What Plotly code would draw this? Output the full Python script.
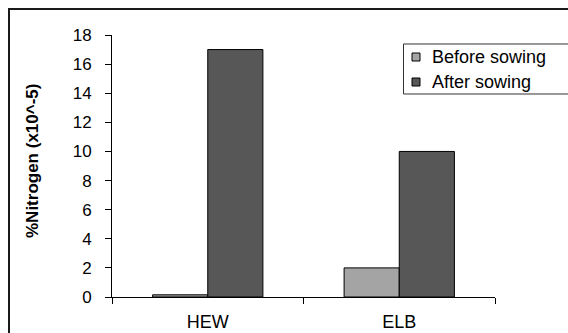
import plotly.graph_objects as go

categories = ["HEW", "ELB"]
series_names = ["Before sowing", "After sowing"]
before_sowing = [0.15, 2]
after_sowing = [17, 10]
y_ticks = [0, 2, 4, 6, 8, 10, 12, 14, 16, 18]
colors = ["#A4A4A4", "#575757"]

W, H = 568, 333
L, R, T, B = 112, 568 - 495, 35, 333 - 297
pw, ph = W - L - R, H - T - B


def px(xs):  # screen px -> paper
    return (xs - L) / pw


def py(ys):
    return (H - B - ys) / ph


def open_path(pts):
    return "M " + " L ".join(f"{px(x):.5f},{py(y):.5f}" for x, y in pts)


fig = go.Figure()
for name, vals, col in zip(series_names, [before_sowing, after_sowing], colors):
    fig.add_trace(go.Bar(name=name, x=categories, y=vals,
                         marker=dict(color=col, line=dict(color="black", width=1))))

font = "Liberation Sans, Arial, sans-serif"
shapes = [
    # outer chart border (right and bottom edges lie outside the view)
    dict(type="path", xref="paper", yref="paper",
         path=open_path([(9, 340), (9, 9), (575, 9)]),
         line=dict(color="#1a1a1a", width=2), layer="below"),
    # legend box (right edge outside the view)
    dict(type="path", xref="paper", yref="paper",
         path=open_path([(575, 44), (403.5, 44), (403.5, 94), (575, 94)]),
         line=dict(color="#333333", width=1)),
]
annotations = [
    dict(text="<b>%Nitrogen (x10^-5)</b>", xref="paper", yref="paper",
         x=px(32), y=py(161), textangle=-90, showarrow=False,
         xanchor="center", yanchor="middle", font=dict(size=17)),
]
leg_y = [57, 82]
for name, col, yy in zip(series_names, colors, leg_y):
    shapes.append(dict(type="rect", xref="paper", yref="paper",
                       x0=px(412), x1=px(420), y0=py(yy + 4), y1=py(yy - 4),
                       line=dict(color="black", width=1), fillcolor=col))
    annotations.append(dict(text=name, xref="paper", yref="paper",
                            x=px(430), y=py(yy), xanchor="left", yanchor="middle",
                            showarrow=False, font=dict(size=18)))

fig.update_layout(
    width=W, height=H,
    margin=dict(l=L, r=R, t=T, b=B, autoexpand=False),
    paper_bgcolor="white", plot_bgcolor="white",
    barmode="group", bargap=0.424, bargroupgap=0,
    font=dict(family=font, size=17, color="black"),
    showlegend=False,
    shapes=shapes, annotations=annotations,
)
fig.update_xaxes(type="category", showline=True, linecolor="black", linewidth=1,
                 ticks="outside", tickson="boundaries", ticklen=6, tickcolor="black",
                 tickfont=dict(size=18), ticklabelstandoff=8,
                 showgrid=False, fixedrange=True)
fig.update_yaxes(range=[0, 18], tickvals=y_ticks, showline=True, linecolor="black",
                 linewidth=1, ticks="outside", ticklen=6, tickcolor="black",
                 tickfont=dict(size=17), ticklabelstandoff=10,
                 showgrid=False, zeroline=False)

fig.write_html(
    "out.html",
    config={"displayModeBar": False},
    post_script=(
        "document.documentElement.style.overflow='hidden';"
        "document.body.style.margin='0';"
        "document.body.style.overflow='hidden';"
    ),
)
